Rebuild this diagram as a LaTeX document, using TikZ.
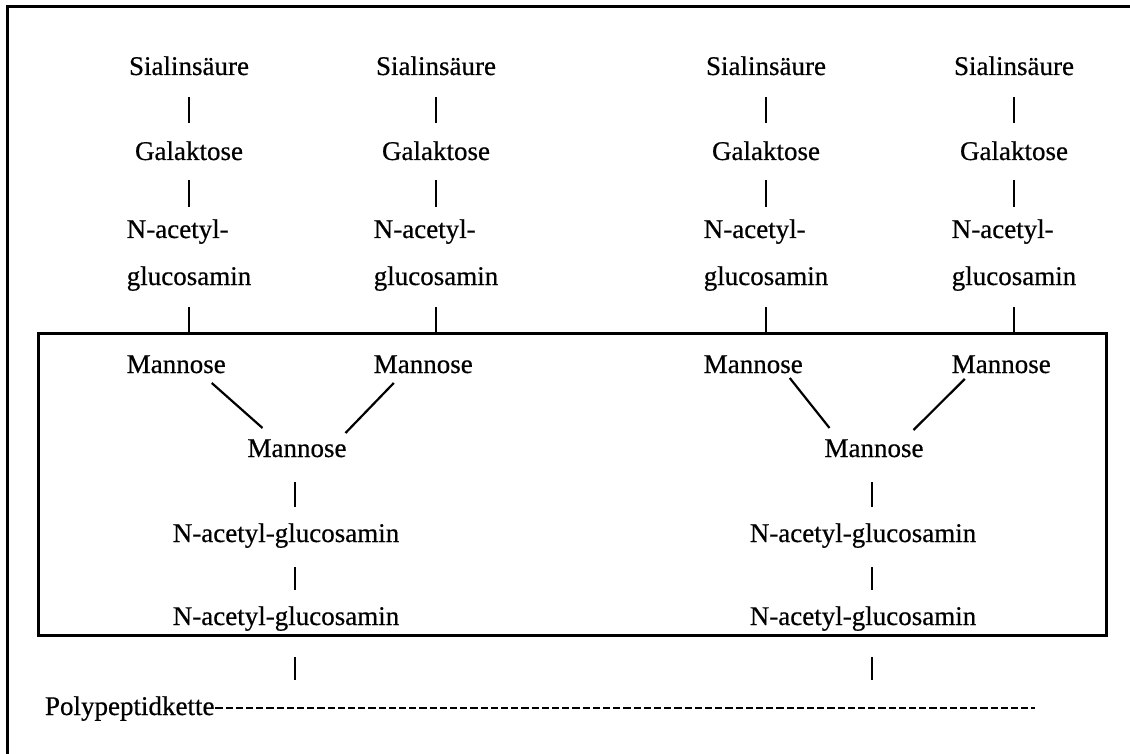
\documentclass[tikz,border=0pt]{standalone}
\usepackage{fontspec}
\setmainfont{Liberation Serif}[FakeBold=0.6]
\usetikzlibrary{calc}
\begin{document}
\begin{tikzpicture}[x=1pt,y=-1pt,
  lbl/.style={inner sep=0pt, outer sep=0pt, font=\fontsize{27}{32}\selectfont, anchor=base},
  bar/.style={line width=2.2pt},
  frameline/.style={line width=3pt},
  boxline/.style={draw, line width=3pt, inner sep=0pt, outer sep=0pt},
  dashline/.style={line width=2.3pt, dash pattern=on 7.2pt off 3pt}]
\useasboundingbox (0,0) rectangle (1130,754);
% outer frame (left and top edges visible)
\draw[frameline] (7,754) -- (7,7) -- (1130,7);
% core box
\node[boxline, minimum width=1068pt, minimum height=302pt, anchor=north west] (box) at (38,333) {};
% antenna columns
\foreach \i/\x in {A/189,B/436,C/766,D/1014}{
  \node[lbl] (s\i) at (\x,75) {Sialinsäure};
  \node[lbl] (g\i) at (\x,160) {Galaktose};
  \node[lbl] (u\i) at (\x,285) {glucosamin};
  \node[lbl, anchor=base west] (n\i) at ($(u\i.base west)+(0,-47)$) {N-acetyl-};
  \node[lbl, anchor=base west] (m\i) at ($(u\i.base west)+(0,88)$) {Mannose};
  \draw[bar] ($(s\i.base)+(0,22)$) -- ($(g\i.base)+(0,-37)$);
  \draw[bar] ($(g\i.base)+(0,20)$) -- ($(g\i.base |- n\i.base)+(0,-31)$);
  \draw[bar] ($(u\i.base)+(0,22)$) -- (u\i.base |- box.north);
}
% central mannoses
\node[lbl] (mL) at (297,457) {Mannose};
\node[lbl] (mR) at (874,457) {Mannose};
\draw[bar] ($(mA.base east)+(-14,10)$) -- ($(mL.base west)+(15,-29)$);
\draw[bar] ($(mB.base west)+(20,10)$) -- ($(mL.base east)+(-1,-24)$);
\draw[bar] ($(mC.base east)+(-13,5)$) -- ($(mR.base west)+(5,-29)$);
\draw[bar] ($(mD.base west)+(13,6)$) -- ($(mR.base east)+(-10,-27)$);
% chitobiose core
\node[lbl] (aL) at (286,542) {N-acetyl-glucosamin};
\node[lbl] (bL) at (286,625) {N-acetyl-glucosamin};
\node[lbl] (aR) at (863,542) {N-acetyl-glucosamin};
\node[lbl] (bR) at (863,625) {N-acetyl-glucosamin};
% polypeptide chain
\node[lbl, anchor=base west] (pp) at (45,715) {Polypeptidkette};
\coordinate (ppend) at (1035,708);
\draw[dashline] ($(pp.base east)+(1,-7)$) -- (ppend);
% vertical links
\foreach \m/\a/\b in {mL/aL/bL, mR/aR/bR}{
  \draw[bar] ($(\m.base)+(-2,25)$) -- ($(\m.base |- \a.base)+(-2,-35)$);
  \draw[bar] ($(\m.base |- \a.base)+(-2,25)$) -- ($(\m.base |- \b.base)+(-2,-35)$);
  \draw[bar] ($(\m.base |- box.south)+(-2,22)$) -- ($(\m.base |- pp.base)+(-2,-35)$);
}
\end{tikzpicture}
\end{document}
